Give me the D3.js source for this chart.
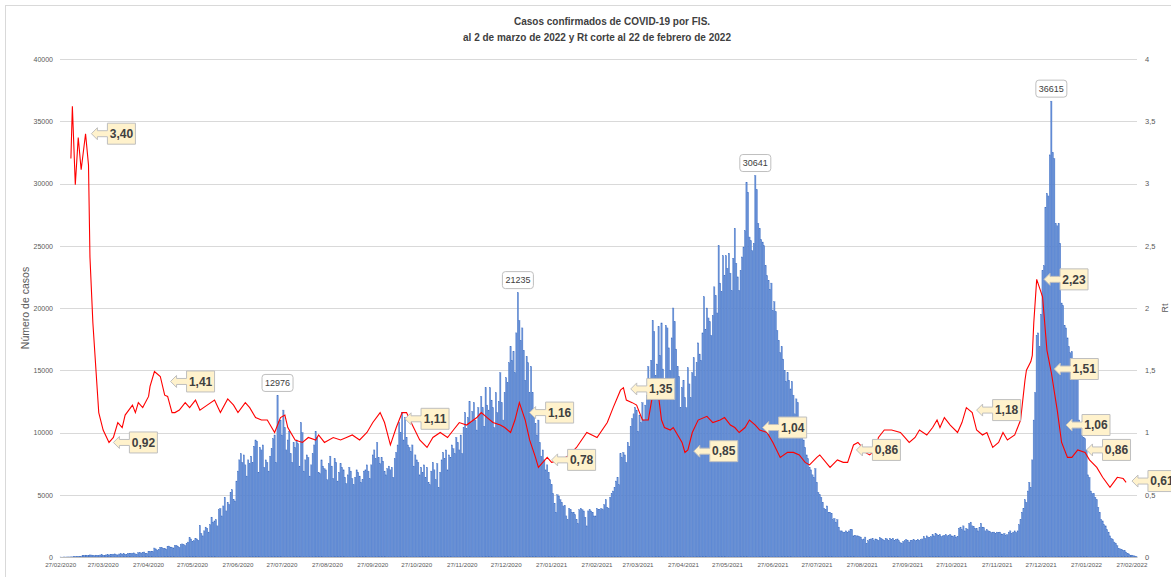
<!DOCTYPE html>
<html>
<head>
<meta charset="utf-8">
<script src="https://cdn.jsdelivr.net/npm/d3@7"></script>
<style>
body { margin: 0; background: #fff; }
svg text { font-family: "Liberation Sans", Arial, sans-serif; }
</style>
</head>
<body>
<div id="chart"></div>
<script>
// casos diarios por FIS desde el 27/02/2020
var fechaInicio = "27/02/2020";

var casos2020 = [
    1, 0, 3,
    2,4,5,6,10,12,15,18,25,35,45,60,110,130,150,120,140,170,160,130,110,150,140,120,160,180,150,130,170,190,160,
    210,190,230,250,180,170,240,260,230,270,220,200,280,300,260,310,330,250,230,340,360,320,380,400,300,280,420,450,470,430,
    720,650,560,620,780,760,700,690,640,820,880,800,760,730,900,950,870,780,1000,1050,980,900,1100,1200,1550,1450,1250,1300,1500,1450,1350,
    2540,1900,1700,2100,2400,2300,2000,2600,3200,2800,2900,3000,2500,3800,3900,3300,4100,4800,3700,4400,4200,5200,5400,4600,4500,6100,6900,7800,8300,7600,
    8200,7400,6500,7800,7500,8100,7600,8900,9400,9300,6800,8800,8600,9000,7200,7800,7600,6900,8100,8700,9500,9800,7600,12976,10900,11000,9800,11800,10400,8600,9400,
    10100,8300,7600,9200,8800,9400,9100,7300,10800,10000,6900,7800,8200,8000,6500,7400,8300,9000,10100,9600,6800,6700,7800,7300,7100,7000,6200,7500,8100,7300,6300,
    7900,7600,6100,6800,7500,7200,7000,6400,5900,6600,7200,6900,6300,5800,6400,7000,6800,6500,6000,6200,6900,7000,7400,6900,6300,7400,8200,8600,7900,9200,
    8000,7500,8000,7700,6900,6600,7100,7300,7000,7200,6400,7900,8400,9000,10800,10000,11600,9400,11200,9600,9000,8800,8500,9000,7300,8200,7800,7600,6600,7200,6800,
    7400,6400,7200,6000,5800,6900,7600,7000,6200,7500,5600,6800,7800,8400,7900,8600,7000,8200,8000,9000,8700,8300,9600,9200,8600,9800,8300,10400,11600,10300,
    11200,12500,10800,11700,12400,11000,10200,12000,11500,12900,12000,10500,13600,12200,11800,13600,12600,12000,10400,13200,11600,12500,14800,12400,11000,13200,14400,14000,15600,16900,15800
];

var casos2021 = [
    16500,14800,18000,21235,19000,17400,18400,16600,14200,16100,15600,13200,15300,13200,11400,10700,9800,11000,9200,8100,8600,7800,7000,7400,6800,6200,5800,5100,4300,3600,5000,
    4900,4600,4400,4100,4150,3300,3000,3900,3800,3600,3600,3400,3000,2700,3800,3900,3800,3700,3200,2500,3700,3800,3700,3600,3300,3300,3900,3800,
    3800,3900,3800,4200,4600,4000,3900,4800,5100,5300,5600,6100,6400,5800,8300,8000,8400,8200,7600,9200,8900,10500,11100,11500,12000,11800,10100,11400,10800,12400,11000,
    12200,13000,15300,14000,15800,19000,18100,14600,15500,18500,16200,18800,15100,13800,18600,18400,16800,15000,17600,20000,18900,16700,15300,14500,12000,13600,14200,12800,12000,15200,
    13900,12800,14800,16000,14500,15600,17200,16300,15800,18000,20900,18300,20000,19200,18900,17800,19400,21700,21000,19600,25000,22000,21300,24200,22600,24200,23200,24400,22800,21400,24000,
    26400,23600,22500,21400,23000,24100,24900,26200,30100,29300,25700,25400,24600,25200,30641,29500,26800,26400,25500,25300,25000,23400,22600,22200,21500,22000,19800,20500,19700,18200,
    17400,16400,16900,15900,15000,14100,14800,14200,13500,14100,13000,11500,12700,12400,11000,10200,10000,9400,8800,8200,7900,7200,7000,6600,6400,7100,6000,5200,5000,4800,4400,
    3900,3800,4100,3600,3600,3500,3000,3100,2800,3000,2400,2100,2100,2000,2000,2100,2000,2100,2200,2200,1700,1750,1700,1700,1650,1600,1400,1450,1600,1100,1300,
    1400,1450,1500,1300,1450,1400,1350,1550,1500,1400,1350,1500,1450,1300,1500,1400,1500,1350,1400,1450,1300,1150,1100,1250,1300,1400,1350,1200,1300,1350,
    1400,1300,1350,1400,1350,1400,1450,1650,1500,1700,1600,1550,1650,1800,1700,1900,1800,1750,1800,1650,1700,1750,1800,1700,1750,1800,1700,1650,1750,1600,1650,
    2300,2400,2200,2500,2100,2300,2200,2700,2800,2500,2450,2300,2300,2100,2350,2700,2400,2350,2100,2200,2100,2050,1950,2000,2000,1900,2000,1950,2000,1850,
    1800,1900,1750,1800,2000,2100,1900,2000,2100,1950,2100,2600,3000,3600,3900,4600,4400,5300,6000,5600,7800,11000,13200,17800,18000,16900,19500,23000,23400,28100,29200
];

var casos2022 = [
    29000,32300,36615,32500,32000,26800,26600,26800,25200,20400,20200,18600,18400,17600,16900,16400,16500,15400,15200,15000,14600,11000,10800,9800,9600,9500,8600,6600,6400,5300,5100,
    5100,4800,4600,4000,3600,3000,2900,2600,2500,2200,2000,1700,1500,1400,1200,1100,900,700,650,600,550,500,400,300,250,150,150,100,
    80,40
];

// Rt (fecha, valor)
var rtSerie = [
    ["05/03/2020",3.20],["06/03/2020",3.62],["08/03/2020",2.99],["10/03/2020",3.37],["12/03/2020",3.11],["15/03/2020",3.40],
    ["17/03/2020",3.15],["18/03/2020",2.41],["20/03/2020",1.88],["23/03/2020",1.34],["24/03/2020",1.16],["27/03/2020",1.02],
    ["31/03/2020",0.92],["03/04/2020",0.96],["06/04/2020",1.08],["09/04/2020",1.04],["11/04/2020",1.14],["16/04/2020",1.22],
    ["18/04/2020",1.16],["20/04/2020",1.24],["23/04/2020",1.20],["27/04/2020",1.29],["28/04/2020",1.37],["01/05/2020",1.49],
    ["05/05/2020",1.45],["08/05/2020",1.30],["10/05/2020",1.29],["13/05/2020",1.16],["15/05/2020",1.16],["18/05/2020",1.18],
    ["22/05/2020",1.24],["25/05/2020",1.20],["29/05/2020",1.26],["01/06/2020",1.18],["06/06/2020",1.22],["11/06/2020",1.26],
    ["15/06/2020",1.16],["20/06/2020",1.27],["24/06/2020",1.22],["27/06/2020",1.16],["02/07/2020",1.24],["05/07/2020",1.20],
    ["09/07/2020",1.12],["13/07/2020",1.10],["17/07/2020",1.10],["22/07/2020",1.00],["26/07/2020",1.12],["29/07/2020",1.14],
    ["31/07/2020",1.04],["05/08/2020",0.94],["10/08/2020",0.92],["14/08/2020",0.96],["19/08/2020",0.94],["21/08/2020",0.98],
    ["25/08/2020",0.92],["31/08/2020",0.96],["05/09/2020",0.94],["09/09/2020",0.96],["13/09/2020",0.98],["18/09/2020",0.94],
    ["23/09/2020",1.00],["27/09/2020",1.08],["02/10/2020",1.16],["05/10/2020",1.08],["09/10/2020",0.90],["13/10/2020",1.04],
    ["17/10/2020",1.16],["20/10/2020",1.16],["24/10/2020",1.06],["29/10/2020",0.94],["03/11/2020",0.88],["07/11/2020",0.96],
    ["12/11/2020",1.00],["17/11/2020",0.96],["21/11/2020",1.02],["25/11/2020",1.08],["30/11/2020",1.06],["07/12/2020",1.12],
    ["10/12/2020",1.16],["14/12/2020",1.12],["18/12/2020",1.08],["23/12/2020",1.06],["26/12/2020",1.04],["30/12/2020",1.00],
    ["02/01/2021",1.10],["05/01/2021",1.24],["09/01/2021",1.10],["12/01/2021",0.94],["16/01/2021",0.80],["18/01/2021",0.72],
    ["21/01/2021",0.76],["24/01/2021",0.80],["27/01/2021",0.76],["03/02/2021",0.78],["08/02/2021",0.82],["13/02/2021",0.88],
    ["20/02/2021",1.00],["27/02/2021",0.96],["06/03/2021",1.08],["10/03/2021",1.20],["15/03/2021",1.34],["17/03/2021",1.36],
    ["19/03/2021",1.26],["23/03/2021",1.24],["26/03/2021",1.22],["28/03/2021",1.16],["30/03/2021",1.10],["03/04/2021",1.10],
    ["05/04/2021",1.24],["07/04/2021",1.36],["10/04/2021",1.29],["12/04/2021",1.10],["14/04/2021",1.04],["18/04/2021",1.02],
    ["20/04/2021",1.04],["22/04/2021",1.00],["26/04/2021",0.92],["28/04/2021",0.84],["30/04/2021",0.86],["03/05/2021",1.00],
    ["07/05/2021",1.10],["13/05/2021",1.13],["17/05/2021",1.08],["22/05/2021",1.10],["25/05/2021",1.12],["29/05/2021",1.06],
    ["01/06/2021",1.04],["04/06/2021",1.00],["08/06/2021",1.04],["11/06/2021",1.10],["15/06/2021",1.06],["18/06/2021",1.02],
    ["23/06/2021",1.00],["27/06/2021",0.92],["02/07/2021",0.80],["07/07/2021",0.84],["11/07/2021",0.84],["15/07/2021",0.82],
    ["19/07/2021",0.76],["22/07/2021",0.74],["27/07/2021",0.80],["29/07/2021",0.82],["05/08/2021",0.72],["10/08/2021",0.78],
    ["14/08/2021",0.76],["17/08/2021",0.76],["21/08/2021",0.90],["24/08/2021",0.92],["27/08/2021",0.88],["29/08/2021",0.84],
    ["01/09/2021",0.82],["05/09/2021",0.86],["07/09/2021",0.96],["11/09/2021",1.02],["16/09/2021",1.02],["22/09/2021",1.00],
    ["25/09/2021",0.96],["28/09/2021",0.92],["02/10/2021",0.96],["05/10/2021",1.02],["10/10/2021",0.98],["14/10/2021",1.04],
    ["17/10/2021",1.10],["19/10/2021",1.04],["22/10/2021",1.12],["26/10/2021",1.06],["31/10/2021",1.00],["03/11/2021",1.08],
    ["06/11/2021",1.20],["10/11/2021",1.16],["13/11/2021",1.02],["17/11/2021",0.98],["20/11/2021",1.00],["24/11/2021",0.88],
    ["28/11/2021",0.92],["01/12/2021",1.00],["04/12/2021",0.94],["09/12/2021",0.98],["13/12/2021",1.10],["16/12/2021",1.42],
    ["17/12/2021",1.50],["20/12/2021",1.57],["21/12/2021",1.62],["22/12/2021",1.88],["24/12/2021",2.23],["28/12/2021",2.09],
    ["31/12/2021",1.66],["03/01/2022",1.48],["07/01/2022",1.18],["10/01/2022",0.92],["14/01/2022",0.80],["17/01/2022",0.80],
    ["21/01/2022",0.86],["26/01/2022",0.84],["29/01/2022",0.78],["03/02/2022",0.72],["07/02/2022",0.64],["12/02/2022",0.56],
    ["17/02/2022",0.64],["21/02/2022",0.63],["23/02/2022",0.60]
];

// etiquetas de Rt (fecha, texto, valor)
var etiquetasRt = [
    ["19/03/2020","3,40",3.40],["03/04/2020","0,92",0.92],["12/05/2020","1,41",1.41],["19/10/2020","1,11",1.11],
    ["12/01/2021","1,16",1.16],["27/01/2021","0,78",0.78],["22/03/2021","1,35",1.35],["04/05/2021","0,85",0.85],
    ["20/06/2021","1,04",1.04],["23/08/2021","0,86",0.86],["13/11/2021","1,18",1.18],["29/12/2021","2,23",2.23],
    ["05/01/2022","1,51",1.51],["13/01/2022","1,06",1.06],["27/01/2022","0,86",0.86],["27/02/2022","0,61",0.61]
];

var picos = [12976, 21235, 30641, 36615];
var ticksCasos = [0, 5000, 10000, 15000, 20000, 25000, 30000, 35000, 40000];
var ticksRt = [0, 0.5, 1, 1.5, 2, 2.5, 3, 3.5, 4];

var W = 1171, H = 577;
var plot = {left: 60, right: 1137, top: 59, bottom: 557};
var parseFecha = d3.timeParse("%d/%m/%Y");
var formatFecha = d3.timeFormat("%d/%m/%Y");

var casos = casos2020.concat(casos2021, casos2022);
var inicio = parseFecha(fechaInicio);
var dias = d3.timeDay.range(inicio, d3.timeDay.offset(inicio, casos.length));
if (dias.length != casos.length) console.warn("longitud", dias.length, casos.length);

var x = d3.scaleBand().domain(dias).range([plot.left, plot.right]).paddingInner(0.12);
var y = d3.scaleLinear().domain([0, 40000]).range([plot.bottom, plot.top]);
var yRt = d3.scaleLinear().domain([0, 4]).range([plot.bottom, plot.top]);
var bw = x.bandwidth();
function xc(d) { return x(d) + bw / 2; }

var svg = d3.select("#chart").append("svg")
    .attr("width", W)
    .attr("height", H);

// borde exterior
svg.append("rect")
    .attr("x", 5.5).attr("y", 5.5)
    .attr("width", 1300).attr("height", 700)
    .attr("fill", "none")
    .attr("stroke", "#d9d9d9");

// titulo
svg.append("text")
    .attr("x", 612).attr("y", 25)
    .attr("text-anchor", "middle")
    .style("font-size", "10px").style("font-weight", "bold").style("fill", "#404040")
    .text("Casos confirmados de COVID-19 por FIS.");
svg.append("text")
    .attr("x", 597).attr("y", 41)
    .attr("text-anchor", "middle")
    .style("font-size", "10px").style("font-weight", "bold").style("fill", "#404040")
    .text("al 2 de marzo de 2022 y Rt corte al 22 de febrero de 2022");

// lineas de cuadricula
svg.append("g")
    .selectAll("line")
    .data(ticksCasos)
    .enter().append("line")
    .attr("x1", plot.left).attr("x2", plot.right)
    .attr("y1", function (d) { return Math.round(y(d)) + 0.5; })
    .attr("y2", function (d) { return Math.round(y(d)) + 0.5; })
    .attr("stroke", "#d9d9d9");

// barras
svg.append("g")
    .selectAll("rect")
    .data(casos)
    .enter().append("rect")
    .attr("x", function (d, i) { return x(dias[i]); })
    .attr("width", bw)
    .attr("y", function (d) { return y(d); })
    .attr("height", function (d) { return plot.bottom - y(d); })
    .attr("fill", "#6690d8")
    .attr("stroke", "#4472c4")
    .attr("stroke-width", 0.35);

// ejes
var ejeX = svg.append("g")
    .attr("transform", "translate(0," + plot.bottom + ")")
    .call(d3.axisBottom(x)
        .tickValues(dias.filter(function (d) { return d.getDate() == 27; }))
        .tickFormat(formatFecha)
        .tickSize(0)
        .tickPadding(6));
ejeX.select(".domain").attr("stroke", "#bfbfbf");
ejeX.selectAll("text").style("font-size", "6.2px").style("fill", "#595959");

var ejeY = svg.append("g")
    .attr("transform", "translate(" + plot.left + ",0)")
    .call(d3.axisLeft(y).tickValues(ticksCasos).tickFormat(d3.format("d")).tickSize(0).tickPadding(7));
ejeY.select(".domain").remove();
ejeY.selectAll("text").style("font-size", "7px").style("fill", "#595959");

var ejeRt = svg.append("g")
    .attr("transform", "translate(" + plot.right + ",0)")
    .call(d3.axisRight(yRt).tickValues(ticksRt)
        .tickFormat(function (d) { return String(d).replace(".", ","); })
        .tickSize(0).tickPadding(8));
ejeRt.select(".domain").remove();
ejeRt.selectAll("text").style("font-size", "7.5px").style("fill", "#595959");

svg.append("text")
    .attr("transform", "translate(29,308) rotate(-90)")
    .attr("text-anchor", "middle")
    .style("font-size", "10.5px").style("fill", "#595959")
    .text("Número de casos");
svg.append("text")
    .attr("transform", "translate(1168,308) rotate(-90)")
    .attr("text-anchor", "middle")
    .style("font-size", "9px").style("fill", "#595959")
    .text("Rt");

// linea Rt
var lineaRt = d3.line()
    .x(function (d) { return xc(parseFecha(d[0])); })
    .y(function (d) { return yRt(d[1]); });
svg.append("path")
    .datum(rtSerie)
    .attr("d", lineaRt)
    .attr("fill", "none")
    .attr("stroke", "#ff0000")
    .attr("stroke-width", 1.1);

// etiquetas de picos
var gPicos = svg.append("g");
picos.forEach(function (v) {
    var i = casos.indexOf(v);
    var cx = xc(dias[i]), top = y(v) - 4;
    gPicos.append("rect")
        .attr("x", cx - 15.5).attr("y", top - 17)
        .attr("width", 31).attr("height", 17)
        .attr("rx", 3)
        .attr("fill", "#fff").attr("stroke", "#bfbfbf");
    gPicos.append("text")
        .attr("x", cx).attr("y", top - 5.3)
        .attr("text-anchor", "middle")
        .style("font-size", "9px").style("fill", "#404040")
        .text(v);
});

// llamadas de Rt
var gRt = svg.append("g");
etiquetasRt.forEach(function (e) {
    var tx = xc(parseFecha(e[0])), ty = yRt(e[2]);
    var bx = tx + 16, bwid = 28, bh = 10.5;
    var pts = [[tx, ty], [tx + 6, ty - 6], [tx + 6, ty - 3], [bx, ty - 3], [bx, ty - bh], [bx + bwid, ty - bh],
        [bx + bwid, ty + bh], [bx, ty + bh], [bx, ty + 3], [tx + 6, ty + 3], [tx + 6, ty + 6]];
    gRt.append("path")
        .attr("d", "M" + pts.join("L") + "Z")
        .attr("fill", "#fff2cc")
        .attr("stroke", "#bfbfbf");
    gRt.append("text")
        .attr("x", bx + bwid / 2).attr("y", ty + 4.3)
        .attr("text-anchor", "middle")
        .style("font-size", "12px").style("font-weight", "bold").style("fill", "#404040")
        .text(e[1]);
});
</script>
</body>
</html>
